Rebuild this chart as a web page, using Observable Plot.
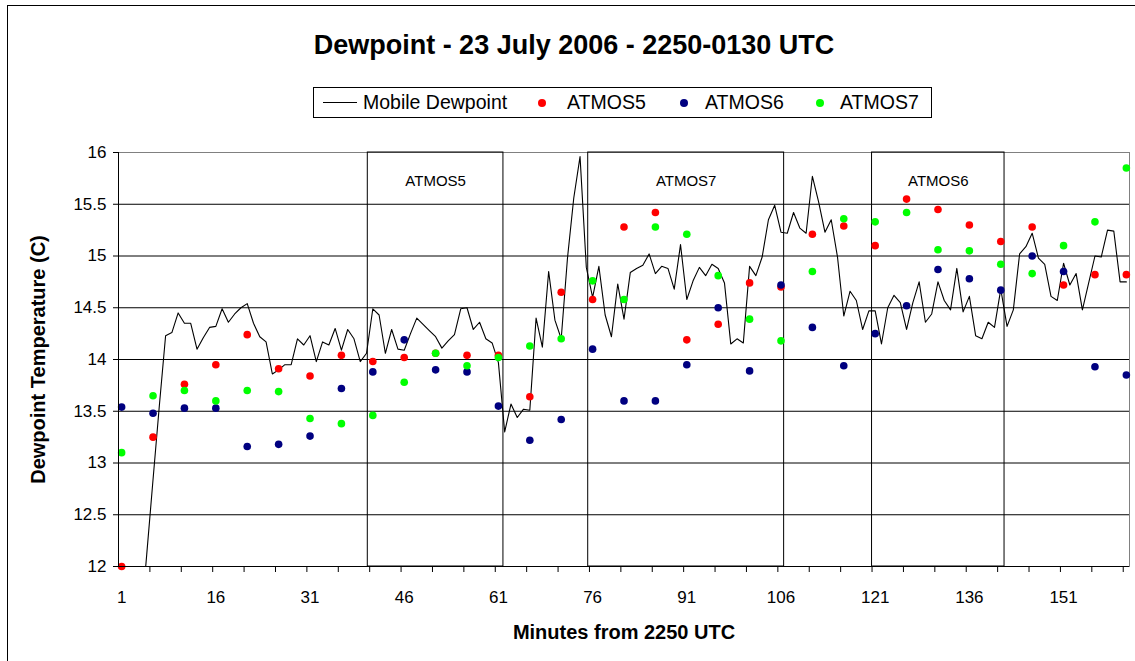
<!DOCTYPE html>
<html><head><meta charset="utf-8">
<script src="https://cdn.jsdelivr.net/npm/d3@7"></script>
<script src="https://cdn.jsdelivr.net/npm/@observablehq/plot@0.6"></script>
<style>
body{margin:0;background:#fff;font-family:"Liberation Sans",Arial,sans-serif;color:#000}
#chart{position:relative;width:1135px;height:661px;overflow:hidden;background:#fff}
#header{position:relative;height:140px}
#title{position:absolute;left:0;top:30px;width:1148px;text-align:center;font-weight:bold;font-size:27px;line-height:31px}
#legend{position:absolute;left:313px;top:87px;width:619px;height:31px;border:1px solid #000;box-sizing:border-box;font-size:19.5px}
.item{position:absolute;top:0;height:29px;line-height:29px;white-space:nowrap}
.dotsw{position:absolute;top:11px;width:8px;height:8px;border-radius:50%}
.linesw{position:absolute;top:14px;width:34px;height:0;border-top:1px solid #000}
#frame{position:absolute;left:7px;top:5px;width:1200px;height:700px;border:1px solid #000;box-sizing:border-box;pointer-events:none}
</style></head>
<body>
<div id="chart">
  <div id="header">
    <div id="title"></div>
    <div id="legend"></div>
  </div>
  <div id="plot"></div>
  <div id="frame"></div>
</div>
<script>
const titleText = "Dewpoint - 23 July 2006 - 2250-0130 UTC";
const xLabel = "Minutes from 2250 UTC";
const yLabel = "Dewpoint Temperature (C)";
const seriesNames = ["Mobile Dewpoint", "ATMOS5", "ATMOS6", "ATMOS7"];
const seriesColors = ["#000000", "#ff0000", "#000080", "#00ff00"];

// Mobile dewpoint, one value per minute (1..161)
const minutes = d3.range(1, 162);
const mobileDewpoint = [
  11.0, 11.1, 11.2, 11.4, 12.12, 12.84, 13.55, 14.23, 14.26, 14.45,
  14.35, 14.35, 14.10, 14.21, 14.31, 14.32, 14.49, 14.36, 14.44, 14.50,
  14.54, 14.35, 14.22, 14.17, 13.86, 13.90, 13.95, 13.95, 14.20, 14.14,
  14.23, 13.98, 14.17, 14.14, 14.30, 14.09, 14.29, 14.20, 13.98, 14.06,
  14.49, 14.43, 14.06, 14.29, 14.10, 14.09, 14.25, 14.40, 14.34, 14.28,
  14.22, 14.11, 14.18, 14.24, 14.49, 14.50, 14.29, 14.36, 14.20, 14.16,
  13.97, 13.30, 13.57, 13.44, 13.52, 13.51, 14.40, 14.12, 14.85, 14.38,
  14.20, 14.98, 15.56, 15.96, 14.89, 14.60, 14.90, 14.43, 14.22, 14.73,
  14.39, 14.84, 14.88, 14.91, 15.02, 14.83, 14.90, 14.88, 14.68, 15.11,
  14.58, 14.76, 14.89, 14.81, 14.92, 14.88, 14.74, 14.15, 14.20, 14.16,
  14.90, 14.81, 14.99, 15.35, 15.49, 15.23, 15.22, 15.42, 15.27, 15.22,
  15.77, 15.52, 15.23, 15.35, 14.99, 14.42, 14.66, 14.57, 14.29, 14.47,
  14.47, 14.15, 14.50, 14.62, 14.55, 14.29, 14.55, 14.75, 14.36, 14.44,
  14.75, 14.57, 14.48, 14.88, 14.46, 14.61, 14.23, 14.20, 14.36, 14.31,
  14.68, 14.32, 14.48, 15.02, 15.09, 15.22, 14.98, 14.92, 14.61, 14.57,
  14.93, 14.72, 14.83, 14.48, 14.74, 15.00, 14.99, 15.25, 15.24, 14.75,
  14.75
];

// ATMOS stations, every 5 minutes (1, 6, ..., 161)
const atmosMinutes = [1, 6, 11, 16, 21, 26, 31, 36, 41, 46, 51, 56, 61, 66, 71, 76, 81,
  86, 91, 96, 101, 106, 111, 116, 121, 126, 131, 136, 141, 146, 151, 156, 161];
const atmos5 = [12.00, 13.25, 13.76, 13.95, 14.24, 13.91, 13.84, 14.04, 13.98, 14.02, 14.06,
  14.04, 14.04, 13.64, 14.65, 14.58, 15.28, 15.42, 14.19, 14.34, 14.74, 14.70, 15.21, 15.29,
  15.10, 15.55, 15.45, 15.30, 15.14, 15.28, 14.72, 14.82, 14.82];
const atmos6 = [13.54, 13.48, 13.53, 13.53, 13.16, 13.18, 13.26, 13.72, 13.88, 14.19, 13.90,
  13.88, 13.55, 13.22, 13.42, 14.10, 13.60, 13.60, 13.95, 14.50, 13.89, 14.72, 14.31, 13.94,
  14.25, 14.52, 14.87, 14.78, 14.67, 15.00, 14.85, 13.93, 13.85];
const atmos7 = [13.10, 13.65, 13.70, 13.60, 13.70, 13.69, 13.43, 13.38, 13.46, 13.78, 14.06,
  13.94, 14.02, 14.13, 14.20, 14.76, 14.58, 15.28, 15.21, 14.81, 14.39, 14.18, 14.85, 15.36,
  15.33, 15.42, 15.06, 15.05, 14.92, 14.83, 15.10, 15.33, 15.85];

// Annotation boxes (minute ranges)
const boxLabels = ["ATMOS5", "ATMOS7", "ATMOS6"];
const boxStart = [40.2, 75.3, 120.5];
const boxEnd = [61.8, 106.5, 141.6];

// Axes
const xTickLabels = [1, 16, 31, 46, 61, 76, 91, 106, 121, 136, 151];
const xTickMarks = d3.range(5.5, 161, 5);
const yTicks = [12, 12.5, 13, 13.5, 14, 14.5, 15, 15.5, 16];
const xDomain = [0.5, 161.5];
const yDomain = [12, 16];

// ---- header (title + legend) ----
document.getElementById("title").textContent = titleText;
const legend = document.getElementById("legend");
const legendPos = [
  {sw: 9, text: 49},
  {sw: 224, text: 253},
  {sw: 366, text: 391},
  {sw: 502, text: 526}
];
seriesNames.forEach((name, i) => {
  const sw = document.createElement("span");
  if (i === 0) { sw.className = "linesw"; }
  else { sw.className = "dotsw"; sw.style.background = seriesColors[i]; }
  sw.style.left = legendPos[i].sw + "px";
  legend.appendChild(sw);
  const t = document.createElement("span");
  t.className = "item";
  t.style.left = legendPos[i].text + "px";
  t.textContent = name;
  legend.appendChild(t);
});

// ---- data tables ----
const lineData = minutes.map((m, i) => ({minute: m, value: mobileDewpoint[i]}));
const mk = arr => atmosMinutes.map((m, i) => ({minute: m, value: arr[i]}));
const boxes = boxLabels.map((label, i) => ({label, x1: boxStart[i], x2: boxEnd[i], y1: yDomain[0], y2: yDomain[1], ly: 15.72}));

const chart = Plot.plot({
  width: 1135,
  height: 521,
  marginLeft: 118,
  marginRight: 6,
  marginTop: 12,
  marginBottom: 95,
  x: {type: "linear", domain: xDomain},
  y: {type: "linear", domain: yDomain},
  style: {fontFamily: "'Liberation Sans', Arial, sans-serif", fontSize: "17px", color: "#000", background: "transparent", overflow: "visible"},
  marks: [
    Plot.ruleY(yTicks, {stroke: "#000", strokeWidth: 1}),
    Plot.frame({stroke: "#808080"}),
    Plot.rect(boxes, {x1: "x1", x2: "x2", y1: "y1", y2: "y2", fill: "none", stroke: "#000", strokeWidth: 1}),
    Plot.text(boxes, {x: d => (d.x1 + d.x2) / 2, y: "ly", text: "label", fontSize: 15, fill: "#000"}),
    Plot.line(lineData, {x: "minute", y: "value", stroke: seriesColors[0], strokeWidth: 1.1, clip: true}),
    Plot.dot(mk(atmos5), {x: "minute", y: "value", fill: seriesColors[1], r: 3.8}),
    Plot.dot(mk(atmos6), {x: "minute", y: "value", fill: seriesColors[2], r: 3.8}),
    Plot.dot(mk(atmos7), {x: "minute", y: "value", fill: seriesColors[3], r: 3.8}),
    Plot.ruleX([xDomain[0]], {stroke: "#000"}),
    Plot.ruleY([yDomain[0]], {stroke: "#000"}),
    Plot.axisY({ticks: yTicks, tickSize: 5, tickPadding: 7, label: null, tickFormat: d => String(d)}),
    Plot.axisX({ticks: xTickLabels, tickSize: 0, tickPadding: 24, label: null, tickFormat: d => String(d)}),
    Plot.axisX({ticks: xTickMarks, tickSize: 6, label: null, tickFormat: () => ""}),
    Plot.text([xLabel], {frameAnchor: "bottom", lineAnchor: "middle", textAnchor: "middle", dy: 66, fontWeight: "bold", fontSize: 20}),
    Plot.text([yLabel], {frameAnchor: "left", lineAnchor: "middle", textAnchor: "middle", dx: -80, rotate: -90, fontWeight: "bold", fontSize: 20})
  ]
});
document.getElementById("plot").appendChild(chart);
</script>
</body></html>
